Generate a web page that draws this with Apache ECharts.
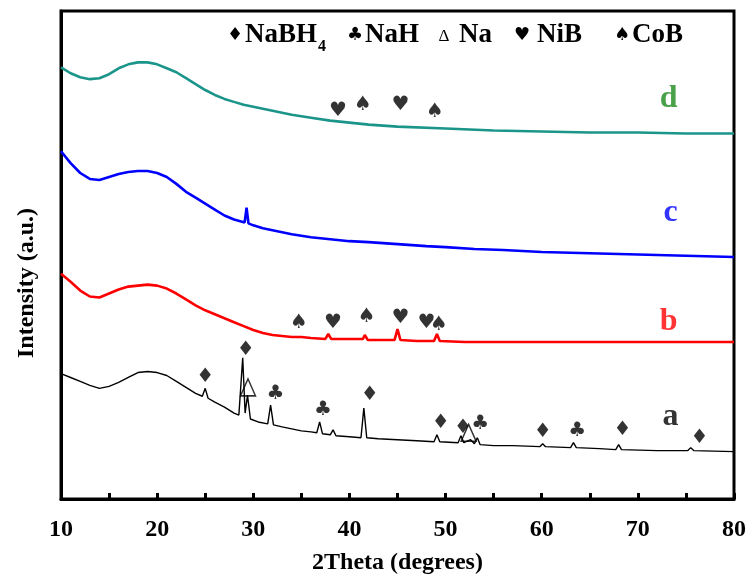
<!DOCTYPE html>
<html>
<head>
<meta charset="utf-8">
<script src="https://cdn.jsdelivr.net/npm/echarts@6/dist/echarts.min.js"></script>
<style>
html, body { margin: 0; padding: 0; background: #ffffff; }
#chart { width: 752px; height: 580px; }
</style>
</head>
<body>
<div id="chart"></div>
<script>
// XRD patterns, [2θ (degrees), intensity (a.u., stacked offsets included)]
const patternA = [
  [10, 127], [11, 123], [12, 119], [13, 115], [14, 112], [15, 114], [16, 118], [17, 123],
  [18, 128], [19, 129], [20, 128], [21, 125], [22, 119], [23, 113], [24, 107], [24.7, 104],
  [25.0, 112], [25.3, 102], [26, 98], [27, 93], [28, 87], [28.5, 85], [28.9, 143], [29.15, 87],
  [29.4, 105], [29.7, 81], [30.5, 78], [31.5, 76], [31.8, 95], [32.1, 75], [33, 73], [34, 71],
  [35, 69], [36, 68], [36.6, 67], [36.9, 78], [37.2, 66], [38.0, 65], [38.3, 70], [38.6, 64],
  [40, 63], [41.2, 62], [41.5, 92], [41.8, 62], [43, 61], [45, 60], [47, 59], [48.8, 58],
  [49.1, 65], [49.4, 58], [51.3, 57], [51.6, 64], [51.9, 57], [52.6, 60], [53.0, 56], [53.3, 62],
  [53.6, 55], [55, 54], [57, 54], [59.8, 53], [60.1, 56], [60.4, 53], [63.0, 52], [63.3, 57],
  [63.6, 52], [66, 51], [67.7, 50], [68.0, 55], [68.3, 50], [72, 49], [75.2, 49], [75.5, 52],
  [75.8, 49], [80, 48]
];
const patternB = [
  [10, 228], [11, 220], [12, 211], [13, 205], [14, 204], [15, 208], [16, 212], [17, 215],
  [18, 216], [19, 217], [20, 216], [21, 213], [22, 208], [23, 202], [24, 196], [25, 191],
  [26, 187], [27, 183], [28, 179], [29, 175], [30, 171], [31, 168], [32, 166], [33, 165],
  [34, 164], [35, 164], [36, 163], [37.5, 162], [37.8, 167], [38.1, 162], [40, 162], [41.4, 162],
  [41.6, 166], [41.9, 161], [43, 161], [44.7, 161], [45.0, 172], [45.3, 161], [47, 160], [48.8, 160],
  [49.1, 167], [49.4, 160], [52, 159], [60, 159], [70, 159], [80, 159]
];
const patternC = [
  [10, 352], [11, 340], [12, 330], [13, 324], [14, 323], [15, 326], [16, 329], [17, 331],
  [18, 332], [19, 332], [20, 330], [21, 326], [22, 319], [23, 311], [24, 305], [25, 299],
  [26, 293], [27, 287], [28, 283], [29.1, 280], [29.3, 295], [29.5, 279], [30, 277], [31, 274],
  [32, 272], [34, 268], [36, 265], [38, 263], [40, 261], [42, 260], [45, 258], [48, 256],
  [50, 255], [53, 253], [56, 252], [60, 250], [64, 249], [68, 248], [72, 247], [76, 246], [80, 245]
];
const patternD = [
  [10, 437], [11, 431], [12, 427], [13, 425], [14, 426], [15, 430], [16, 436], [17, 440],
  [18, 442], [19, 442], [20, 440], [21, 436], [22, 432], [23, 426], [24, 420], [25, 414],
  [26, 409], [27, 405], [28, 402], [29, 399], [30, 397], [31, 395], [32, 393], [34, 389],
  [36, 386], [38, 383], [40, 381], [42, 379], [45, 377], [50, 375], [55, 373], [60, 372],
  [65, 371], [70, 371], [75, 370], [80, 370]
];

// Phase identification marks, [2θ, height]
const marksNaBH4 = [[25.0, 124], [29.2, 151], [42.1, 105], [49.5, 77], [51.8, 72], [60.1, 68], [68.4, 70], [76.4, 62]];
const marksNaH = [[32.3, 107], [37.25, 90], [53.6, 76], [63.7, 69]];
const marksNa = [[29.45, 113], [52.4, 67]];
const marksNiB = [[38.3, 178], [45.3, 183], [48.0, 178], [38.8, 393], [45.3, 399]];
const marksCoB = [[34.75, 178], [41.8, 184], [49.3, 176], [41.4, 399], [48.9, 392]];

// Sample tags
const sampleNames = ['a', 'b', 'c', 'd'];
const samplePos = [[73.4, 83], [73.2, 179], [73.4, 290], [73.2, 405]];
const sampleColors = ['#000000', '#ff0000', '#0000ff', '#1c8a1c'];
const lineColors = ['#000000', '#ff0000', '#0000ff', '#1b958a'];

const xTicks = [10, 20, 30, 40, 50, 60, 70, 80];

const SERIF = '"Liberation Serif", "Times New Roman", serif';
const SYM = '"DejaVu Sans", sans-serif';

function curve(data, color, width) {
  return {
    type: 'line', data: data, showSymbol: false, symbol: 'none', silent: true,
    lineStyle: { color: color, width: width }, z: 2
  };
}
function glyphs(data, glyph, size) {
  return {
    type: 'scatter', data: data, symbolSize: 1, silent: true,
    itemStyle: { color: 'rgba(0,0,0,0)' },
    label: {
      show: true, position: 'inside', formatter: glyph,
      color: '#000', fontSize: size, fontFamily: SYM
    },
    z: 5
  };
}
function legendGlyph(x, ch) {
  return { type: 'text', x: x, y: 35,
    style: { text: ch, font: '18px ' + SYM, fill: '#000', textAlign: 'center', textVerticalAlign: 'middle' } };
}
function legendWord(x, word) {
  return { type: 'text', x: x, y: 35,
    style: { text: word, font: 'bold 27px ' + SERIF, fill: '#000', textAlign: 'left', textVerticalAlign: 'middle' } };
}

const chart = echarts.init(document.getElementById('chart'), null, { renderer: 'canvas' });
chart.setOption({
  animation: false,
  backgroundColor: '#ffffff',
  grid: {
    left: 61, right: 18, top: 11, bottom: 75,
    show: true, borderColor: '#000', borderWidth: 3, backgroundColor: 'transparent'
  },
  xAxis: {
    type: 'value', min: 10, max: 80, interval: 10,
    name: '2Theta (degrees)', nameLocation: 'middle', nameGap: 52,
    nameTextStyle: { fontFamily: SERIF, fontWeight: 'bold', fontSize: 24, color: '#000' },
    axisLine: { show: true, lineStyle: { color: '#000', width: 3 } },
    axisTick: { show: true, inside: true, length: 6, lineStyle: { color: '#000', width: 3 } },
    minorTick: { show: true, splitNumber: 2, length: 6, lineStyle: { color: '#000', width: 3 } },
    splitLine: { show: false },
    axisLabel: {
      margin: 19, fontFamily: SERIF, fontWeight: 'bold', fontSize: 24, color: '#000',
      formatter: v => (xTicks.indexOf(v) >= 0 ? String(v) : '')
    }
  },
  yAxis: {
    type: 'value', min: 0, max: 494,
    axisLine: { show: true, lineStyle: { color: '#000', width: 3 } },
    axisTick: { show: false }, axisLabel: { show: false }, splitLine: { show: false }
  },
  series: [
    curve(patternA, lineColors[0], 1.4),
    curve(patternB, lineColors[1], 2.6),
    curve(patternC, lineColors[2], 2.6),
    curve(patternD, lineColors[3], 2.6),
    glyphs(marksNaBH4, '\u2666', 20),
    glyphs(marksNaH, '\u2663', 20),
    glyphs(marksNiB, '\u2665', 20),
    glyphs(marksCoB, '\u2660', 20),
    {
      type: 'scatter', data: marksNa, symbol: 'triangle', symbolSize: [15, 17], silent: true,
      itemStyle: { color: 'rgba(255,255,255,0)', borderColor: '#000', borderWidth: 1.5 }, z: 5
    },
    {
      type: 'scatter', silent: true, symbolSize: 1, z: 5,
      itemStyle: { color: 'rgba(0,0,0,0)' },
      data: samplePos.map((p, i) => ({
        value: p,
        label: { show: true, position: 'inside', formatter: sampleNames[i], color: sampleColors[i],
                 fontFamily: SERIF, fontWeight: 'bold', fontSize: 32 }
      }))
    }
  ],
  graphic: [
    { type: 'text', x: 27, y: 283, rotation: Math.PI / 2,
      style: { text: 'Intensity (a.u.)', font: 'bold 24px ' + SERIF,
               fill: '#000', textAlign: 'center', textVerticalAlign: 'middle' } },
    legendGlyph(235, '\u2666'),
    legendWord(245, 'NaBH'),
    { type: 'text', x: 318, y: 47, style: { text: '4', font: 'bold 16px ' + SERIF, fill: '#000', textAlign: 'left', textVerticalAlign: 'middle' } },
    legendGlyph(355, '\u2663'),
    legendWord(365, 'NaH'),
    { type: 'text', x: 444, y: 37, style: { text: '\u0394', font: '17px ' + SERIF, fill: '#000', textAlign: 'center', textVerticalAlign: 'middle' } },
    legendWord(459, 'Na'),
    legendGlyph(522, '\u2665'),
    legendWord(537, 'NiB'),
    legendGlyph(622, '\u2660'),
    legendWord(632, 'CoB')
  ]
});
</script>
</body>
</html>
